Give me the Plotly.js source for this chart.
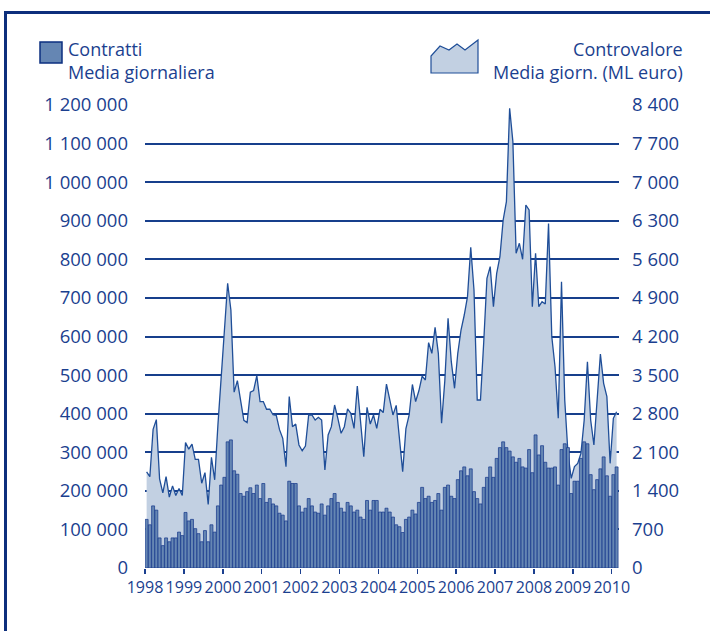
<!DOCTYPE html>
<html>
<head>
<meta charset="utf-8">
<script src="https://cdn.plot.ly/plotly-3.0.1.min.js"></script>
<style>
  html, body { margin: 0; padding: 0; width: 710px; height: 631px; overflow: hidden; background: #fff; }
  #frame { position: absolute; left: 4px; top: 11px; width: 800px; height: 800px;
           border-top: 3px solid #0d2f7c; border-left: 3px solid #0d2f7c; }
  #chart { position: absolute; left: 0; top: 0; width: 710px; height: 631px; }
</style>
</head>
<body>
<div id="frame"></div>
<div id="chart"></div>
<script>
// Monthly data, Jan 1998 – Feb 2010
const startYear = 1998;
const yearLabels = ['1998','1999','2000','2001','2002','2003','2004','2005','2006','2007','2008','2009','2010'];

// Contratti – media giornaliera (numero)
const contratti = [
  126000,112000,161000,150000, 78000, 58000, 78000, 68000, 78000, 78000, 93000, 84000,
  144000,122000,126000,102000, 89000, 68000, 97000, 68000,112000, 93000,161000,215000,
  235000,327000,332000,252000,243000,193000,186000,198000,208000,193000,215000,180000,
  219000,170000,180000,166000,161000,142000,137000,122000,225000,219000,219000,161000,
  145000,155000,180000,161000,145000,142000,166000,137000,161000,180000,193000,170000,
  155000,145000,170000,161000,145000,150000,132000,126000,175000,150000,175000,175000,
  145000,145000,155000,145000,132000,112000,107000, 92000,126000,132000,150000,140000,
  170000,209000,180000,186000,170000,175000,193000,150000,209000,215000,186000,180000,
  229000,252000,262000,239000,257000,198000,180000,166000,209000,235000,262000,235000,
  284000,312000,327000,312000,303000,288000,274000,284000,262000,259000,307000,247000,
  345000,293000,317000,274000,259000,259000,262000,215000,307000,322000,312000,193000,
  225000,225000,284000,327000,322000,242000,203000,229000,257000,288000,239000,186000,
  242000,262000
];

// Controvalore – media giornaliera (milioni di euro)
const controvalore = [
  1742,1658,2517,2692,1616,1364,1658,1286,1490,1316,1442,1316,
  2277,2157,2247,1971,1971,1538,1730,1154,2007,1600,2600,3500,
  4300,5166,4681,3190,3400,3010,2680,2640,3190,3220,3490,3020,
  3020,2880,2880,2780,2770,2510,2353,1838,3109,2564,2612,2232,
  2128,2212,2776,2776,2685,2734,2685,1778,2413,2564,2957,2716,
  2444,2564,2885,2806,2534,3302,2685,2020,2915,2612,2776,2534,
  2879,2820,3338,3060,2776,2950,2400,1748,2530,2776,3330,3020,
  3215,3480,3411,4088,3895,4367,3895,2625,3400,4530,3743,3260,
  3895,4318,4590,4923,5818,5044,3048,3048,4090,5256,5467,4741,
  5346,5648,6314,6646,8340,7735,5709,5891,5600,6586,6495,4741,
  5709,4741,4832,4790,6250,4200,3652,2716,5195,3048,2081,1627,
  1839,1899,2081,2685,3743,2685,2232,3000,3883,3351,3109,1899,
  2716,2836
];

const months = contratti.map((_, i) => startYear + (i + 0.5) / 12);
const yearTicks = yearLabels.map(Number);

const navy = '#1b3f8f';
const font = 'Open Sans, Noto Sans, sans-serif';

const traces = [
  {
    type: 'scatter', mode: 'lines', x: months, y: controvalore, yaxis: 'y',
    fill: 'tozeroy', fillcolor: '#c2d0e2',
    line: { color: '#1f4e98', width: 1.3, shape: 'linear' },
    hoverinfo: 'skip', showlegend: false
  },
  {
    type: 'bar', x: months, y: contratti, yaxis: 'y2',
    marker: { color: '#6586b3', line: { color: '#12358a', width: 0.7 } },
    hoverinfo: 'skip', showlegend: false
  }
];

// paper coordinate helpers (plot area: x 145..619 px, y 105..568 px)
const px = v => (v - 145) / 474;
const py = v => (568 - v) / 463;

const layout = {
  width: 710, height: 631,
  margin: { l: 145, r: 91, t: 105, b: 63, pad: 0 },
  paper_bgcolor: 'rgba(0,0,0,0)', plot_bgcolor: 'rgba(0,0,0,0)',
  separators: ', ',
  bargap: 0.08,
  showlegend: false,
  font: { family: font, color: navy },
  xaxis: {
    range: [startYear, startYear + contratti.length / 12 + 0.02],
    tickvals: yearTicks, ticktext: yearLabels,
    ticks: 'outside', ticklen: 5, tickwidth: 1.5, tickcolor: navy,
    showgrid: false, zeroline: false, showline: false,
    tickfont: { size: 16, color: navy, family: font }
  },
  yaxis: {
    side: 'right', range: [0, 8400], tickmode: 'linear', tick0: 0, dtick: 700,
    tickformat: ',d', showgrid: true, gridcolor: '#173f8c', gridwidth: 2,
    zeroline: false, showline: false, ticks: '', ticklabelstandoff: 12,
    tickfont: { size: 18.5, color: navy, family: font }
  },
  yaxis2: {
    overlaying: 'y', side: 'left', range: [0, 1200000], tickmode: 'linear', tick0: 0, dtick: 100000,
    tickformat: ',d', showgrid: false, zeroline: false, showline: false, ticks: '',
    ticklabelstandoff: 16,
    tickfont: { size: 18.5, color: navy, family: font }
  },
  shapes: [
    { type: 'rect', xref: 'paper', yref: 'paper',
      x0: px(40), x1: px(62), y0: py(63), y1: py(42),
      fillcolor: '#6586b3', line: { color: '#0b2f80', width: 1.5 } },
    { type: 'path', xref: 'paper', yref: 'paper',
      path: 'M ' + px(431) + ' ' + py(73) + ' L ' + px(431) + ' ' + py(56) +
            ' L ' + px(440) + ' ' + py(46) + ' L ' + px(449) + ' ' + py(50) +
            ' L ' + px(457) + ' ' + py(44) + ' L ' + px(465) + ' ' + py(50) +
            ' L ' + px(478) + ' ' + py(40) + ' L ' + px(478) + ' ' + py(73) + ' Z',
      fillcolor: '#c2d0e2', line: { color: '#1f4e98', width: 1.2 } }
  ],
  annotations: [
    { xref: 'paper', yref: 'paper', x: px(66), y: py(35), xanchor: 'left', yanchor: 'top',
      align: 'left', showarrow: false, text: 'Contratti<br>Media giornaliera',
      font: { size: 18, color: navy, family: font } },
    { xref: 'paper', yref: 'paper', x: px(685), y: py(35), xanchor: 'right', yanchor: 'top',
      align: 'right', showarrow: false, text: 'Controvalore<br>Media giorn. (ML euro)',
      font: { size: 18, color: navy, family: font } }
  ]
};

Plotly.newPlot('chart', traces, layout, { displayModeBar: false, staticPlot: true });
</script>
</body>
</html>
